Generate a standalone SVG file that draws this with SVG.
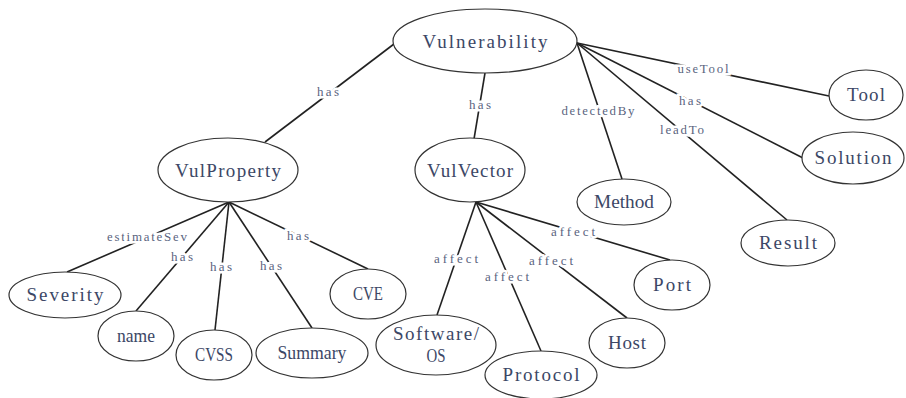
<svg xmlns="http://www.w3.org/2000/svg" width="906" height="398" viewBox="0 0 906 398">
<style>
.n ellipse{fill:#fff;stroke:#333;stroke-width:1.2}
.n text{font-family:"Liberation Serif",serif;font-size:19px;fill:#3c4766;text-anchor:middle}
.e line{stroke:#222;stroke-width:1.6}
.e text{font-family:"Liberation Serif",serif;font-size:13px;fill:#5a6480;text-anchor:middle;stroke:#fff;stroke-width:5;paint-order:stroke}
</style>
<rect width="906" height="398" fill="#fff"/>
<g id="edges" class="e">
<line x1="394" y1="44" x2="265" y2="142"/>
<line x1="485" y1="73" x2="474" y2="139"/>
<line x1="577" y1="43" x2="622" y2="179"/>
<line x1="577" y1="43" x2="787" y2="220"/>
<line x1="577" y1="43" x2="803" y2="158"/>
<line x1="577" y1="43" x2="829" y2="96"/>
<line x1="229" y1="202" x2="67" y2="272"/>
<line x1="229" y1="202" x2="136" y2="311"/>
<line x1="229" y1="202" x2="215" y2="330"/>
<line x1="229" y1="202" x2="312" y2="328"/>
<line x1="229" y1="202" x2="368" y2="269"/>
<line x1="476" y1="202" x2="437" y2="315"/>
<line x1="476" y1="202" x2="541" y2="351"/>
<line x1="476" y1="202" x2="627" y2="318"/>
<line x1="476" y1="202" x2="670" y2="260"/>
<text x="328" y="96" textLength="22">has</text>
<text x="480" y="109" textLength="22">has</text>
<text x="598" y="115" textLength="73">detectedBy</text>
<text x="682" y="134" textLength="44">leadTo</text>
<text x="690" y="105" textLength="22">has</text>
<text x="703" y="73" textLength="51">useTool</text>
<text x="147" y="241" textLength="80">estimateSev</text>
<text x="182" y="261" textLength="22">has</text>
<text x="221" y="271" textLength="22">has</text>
<text x="271" y="270" textLength="22">has</text>
<text x="298" y="240" textLength="22">has</text>
<text x="456" y="263" textLength="44">affect</text>
<text x="507" y="281" textLength="44">affect</text>
<text x="551" y="265" textLength="44">affect</text>
<text x="573" y="236" textLength="44">affect</text>
</g>
<g id="Vulnerability" class="n"><ellipse cx="485" cy="41" rx="92" ry="32"/><text x="485" y="48" textLength="125">Vulnerability</text></g>
<g id="VulProperty" class="n"><ellipse cx="228" cy="170" rx="70" ry="32"/><text x="228" y="177" textLength="106">VulProperty</text></g>
<g id="VulVector" class="n"><ellipse cx="470" cy="170" rx="55" ry="32"/><text x="470" y="177" textLength="86">VulVector</text></g>
<g id="Method" class="n"><ellipse cx="624" cy="202" rx="47" ry="23"/><text x="624" y="208" textLength="60" lengthAdjust="spacingAndGlyphs">Method</text></g>
<g id="Result" class="n"><ellipse cx="788" cy="243" rx="47" ry="23"/><text x="788" y="249" textLength="58">Result</text></g>
<g id="Tool" class="n"><ellipse cx="866" cy="95" rx="37" ry="25"/><text x="866" y="101" textLength="38">Tool</text></g>
<g id="Solution" class="n"><ellipse cx="853" cy="158" rx="51" ry="26"/><text x="853" y="164" textLength="77">Solution</text></g>
<g id="Severity" class="n"><ellipse cx="65" cy="295" rx="56" ry="23"/><text x="65" y="301" textLength="77">Severity</text></g>
<g id="name" class="n"><ellipse cx="136" cy="336" rx="38" ry="25"/><text x="136" y="342" textLength="38" lengthAdjust="spacingAndGlyphs">name</text></g>
<g id="CVSS" class="n"><ellipse cx="214" cy="355" rx="38" ry="25"/><text x="214" y="361" textLength="38" lengthAdjust="spacingAndGlyphs">CVSS</text></g>
<g id="Summary" class="n"><ellipse cx="312" cy="353" rx="56" ry="25"/><text x="312" y="359" textLength="69" lengthAdjust="spacingAndGlyphs">Summary</text></g>
<g id="CVE" class="n"><ellipse cx="368" cy="294" rx="38" ry="25"/><text x="368" y="300" textLength="30" lengthAdjust="spacingAndGlyphs">CVE</text></g>
<g id="SoftwareOS" class="n"><ellipse cx="436" cy="345" rx="60" ry="30"/><text x="436" y="340" textLength="86">Software/</text><text x="436" y="362" textLength="19" lengthAdjust="spacingAndGlyphs">OS</text></g>
<g id="Protocol" class="n"><ellipse cx="541" cy="375" rx="56" ry="24"/><text x="541" y="381" textLength="77">Protocol</text></g>
<g id="Host" class="n"><ellipse cx="627" cy="343" rx="38" ry="25"/><text x="627" y="349" textLength="38">Host</text></g>
<g id="Port" class="n"><ellipse cx="672" cy="285" rx="38" ry="25"/><text x="672" y="291" textLength="38">Port</text></g>
</svg>
